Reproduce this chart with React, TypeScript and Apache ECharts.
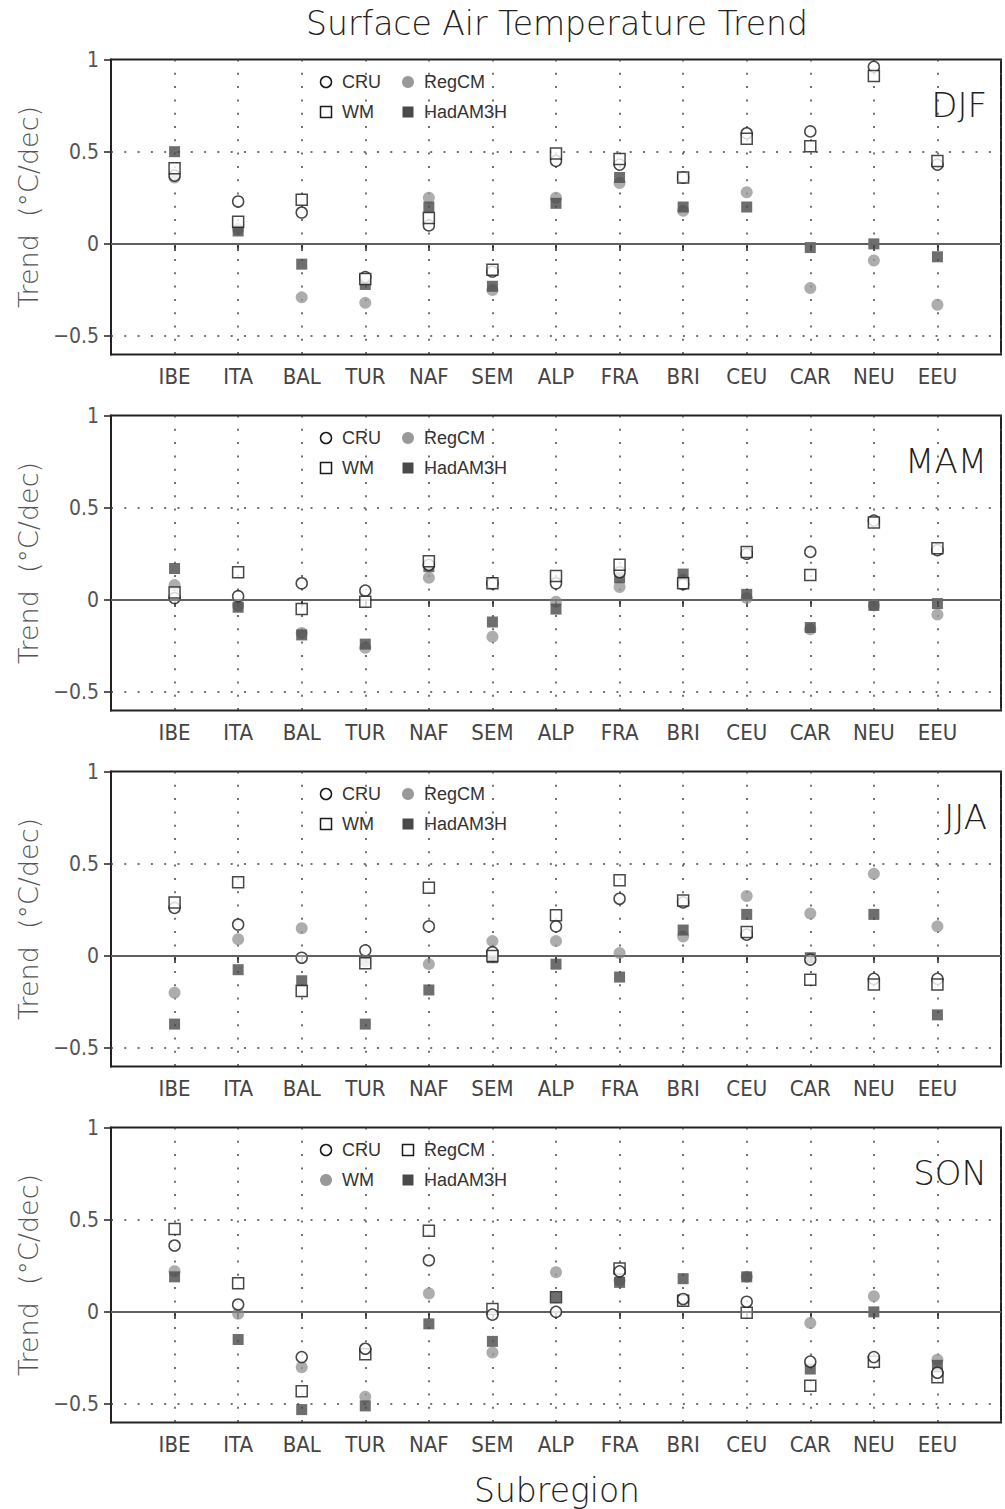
import React, { useEffect, useRef } from "react";
import * as echarts from "echarts";

const regions = ["IBE", "ITA", "BAL", "TUR", "NAF", "SEM", "ALP", "FRA", "BRI", "CEU", "CAR", "NEU", "EEU"];
const seasons = ["DJF", "MAM", "JJA", "SON"];
const yTicks = [-0.5, 0, 0.5, 1];

// DJF
const djfCRU = [0.37, 0.23, 0.17, -0.18, 0.1, -0.15, 0.45, 0.43, 0.36, 0.6, 0.61, 0.96, 0.43];
const djfWM = [0.41, 0.12, 0.24, -0.19, 0.14, -0.14, 0.49, 0.46, 0.36, 0.57, 0.53, 0.91, 0.45];
const djfRegCM = [0.36, 0.08, -0.29, -0.32, 0.25, -0.25, 0.25, 0.33, 0.18, 0.28, -0.24, -0.09, -0.33];
const djfHad = [0.5, 0.07, -0.11, -0.22, 0.2, -0.23, 0.22, 0.36, 0.2, 0.2, -0.02, 0.0, -0.07];
// MAM
const mamCRU = [0.01, 0.02, 0.09, 0.05, 0.19, 0.09, 0.09, 0.15, 0.085, 0.25, 0.26, 0.43, 0.27];
const mamWM = [0.04, 0.15, -0.05, -0.01, 0.21, 0.09, 0.13, 0.19, 0.09, 0.26, 0.135, 0.42, 0.28];
const mamRegCM = [0.08, -0.03, -0.18, -0.26, 0.12, -0.2, -0.01, 0.07, 0.11, 0.01, -0.16, -0.03, -0.08];
const mamHad = [0.17, -0.04, -0.19, -0.24, 0.18, -0.12, -0.05, 0.12, 0.14, 0.03, -0.15, -0.03, -0.02];
// JJA
const jjaCRU = [0.26, 0.17, -0.01, 0.03, 0.16, 0.02, 0.16, 0.31, 0.29, 0.115, -0.02, -0.125, -0.125];
const jjaWM = [0.29, 0.4, -0.19, -0.04, 0.37, 0.0, 0.22, 0.41, 0.3, 0.13, -0.13, -0.155, -0.155];
const jjaRegCM = [-0.2, 0.09, 0.15, -0.03, -0.045, 0.08, 0.08, 0.015, 0.105, 0.325, 0.23, 0.445, 0.16];
const jjaHad = [-0.37, -0.075, -0.135, -0.37, -0.185, -0.01, -0.045, -0.115, 0.14, 0.225, -0.01, 0.225, -0.32];
// SON
const sonCRU = [0.36, 0.04, -0.245, -0.2, 0.28, -0.015, 0.0, 0.22, 0.07, 0.055, -0.27, -0.245, -0.33];
const sonRegCM = [0.45, 0.155, -0.43, -0.23, 0.44, 0.015, 0.08, 0.235, 0.06, -0.005, -0.4, -0.27, -0.355];
const sonWM = [0.22, -0.01, -0.3, -0.46, 0.1, -0.22, 0.215, 0.17, 0.06, 0.19, -0.06, 0.085, -0.26];
const sonHad = [0.19, -0.15, -0.53, -0.51, -0.065, -0.16, 0.08, 0.16, 0.18, 0.19, -0.31, 0.0, -0.29];

const FONT = "'DejaVu Sans', 'Liberation Sans', sans-serif";
const NARROW = "'DejaVu Sans Condensed', 'Liberation Sans Narrow', 'DejaVu Sans', sans-serif";

const openCircle = { kind: "circle", size: 11, item: { color: "#ffffff", borderColor: "#1a1a1a", borderWidth: 1.5 } };
const openSquare = { kind: "rect", size: 11, item: { color: "#ffffff", borderColor: "#1a1a1a", borderWidth: 1.5 } };
const grayCircle = { kind: "circle", size: 12, item: { color: "#999999", borderWidth: 0 } };
const darkSquare = { kind: "rect", size: 11, item: { color: "#4a4a4a", borderWidth: 0 } };

type Entry = { name: string; values: number[]; mark: any; z: number };

const panels: Entry[][] = [
  [
    { name: "CRU", values: djfCRU, mark: openCircle, z: 4 },
    { name: "RegCM", values: djfRegCM, mark: grayCircle, z: 2 },
    { name: "WM", values: djfWM, mark: openSquare, z: 5 },
    { name: "HadAM3H", values: djfHad, mark: darkSquare, z: 3 },
  ],
  [
    { name: "CRU", values: mamCRU, mark: openCircle, z: 4 },
    { name: "RegCM", values: mamRegCM, mark: grayCircle, z: 2 },
    { name: "WM", values: mamWM, mark: openSquare, z: 5 },
    { name: "HadAM3H", values: mamHad, mark: darkSquare, z: 3 },
  ],
  [
    { name: "CRU", values: jjaCRU, mark: openCircle, z: 4 },
    { name: "RegCM", values: jjaRegCM, mark: grayCircle, z: 2 },
    { name: "WM", values: jjaWM, mark: openSquare, z: 5 },
    { name: "HadAM3H", values: jjaHad, mark: darkSquare, z: 3 },
  ],
  [
    { name: "CRU", values: sonCRU, mark: openCircle, z: 5 },
    { name: "RegCM", values: sonRegCM, mark: openSquare, z: 3 },
    { name: "WM", values: sonWM, mark: grayCircle, z: 2 },
    { name: "HadAM3H", values: sonHad, mark: darkSquare, z: 4 },
  ],
];

const PANEL_STEP = 356;
const GRID_TOP = 59.5;
const GRID_LEFT = 111;
const GRID_W = 890;
const GRID_H = 295;

export default function App() {
  const ref = useRef<HTMLDivElement>(null);
  useEffect(() => {
    if (!ref.current) return;
    const chart = echarts.init(ref.current, null, { renderer: "svg" });

    const grid: any[] = [];
    const xAxis: any[] = [];
    const yAxis: any[] = [];
    const series: any[] = [];
    const graphic: any[] = [];

    const dotted = { type: [2, 11.3], color: "#444", width: 1.5 };

    panels.forEach((entries, i) => {
      const top = GRID_TOP + PANEL_STEP * i;
      grid.push({
        left: GRID_LEFT,
        top,
        width: GRID_W,
        height: GRID_H,
        show: true,
        borderColor: "#222",
        borderWidth: 2,
      });
      xAxis.push({
        gridIndex: i,
        type: "value",
        min: 0,
        max: 14,
        interval: 1,
        axisLine: { show: true, lineStyle: { color: "#222", width: 2 } },
        axisTick: { show: true, inside: false, length: 7, lineStyle: { color: "#222", width: 1.5 } },
        axisLabel: {
          formatter: (v: number) => regions[v - 1] ?? "",
          fontSize: 22,
          color: "#444",
          margin: 11,
          fontFamily: NARROW,
        },
        splitLine: { show: true, lineStyle: dotted },
      });
      yAxis.push({
        gridIndex: i,
        type: "value",
        min: -0.6,
        max: 1,
        axisLine: { show: true, lineStyle: { color: "#222", width: 2 } },
        axisTick: { show: true, length: 7, customValues: yTicks, lineStyle: { color: "#222", width: 1.5 } },
        axisLabel: {
          customValues: yTicks,
          formatter: (v: number) => String(v).replace("-", "\u2212"),
          fontSize: 21,
          color: "#555",
          margin: 12,
          fontFamily: NARROW,
        },
        splitLine: { show: false },
        name: "Trend  (\u00B0C/dec)",
        nameLocation: "middle",
        nameGap: 67,
        nameTextStyle: { fontSize: 27, color: "#555", fontFamily: FONT, fontWeight: 300 },
      });
      series.push({
        type: "scatter",
        xAxisIndex: i,
        yAxisIndex: i,
        data: [],
        silent: true,
        z: 1,
        markLine: {
          silent: true,
          symbol: ["none", "none"],
          label: { show: false },
          data: [
            { yAxis: 0.5, lineStyle: dotted },
            { yAxis: -0.5, lineStyle: dotted },
            { yAxis: 0, lineStyle: { type: "solid", color: "#777", width: 1.5 } },
          ],
        },
      });
      entries.forEach((e) => {
        series.push({
          name: e.name,
          type: "scatter",
          xAxisIndex: i,
          yAxisIndex: i,
          z: e.z,
          symbol: e.mark.kind,
          symbolSize: e.mark.size,
          itemStyle: e.mark.item,
          data: e.values.map((v, k) => [k + 1, v]),
        });
      });

      // legend (2 x 2)
      const lx = [326, 408];
      const ly = [82 + PANEL_STEP * i, 112 + PANEL_STEP * i];
      entries.forEach((e, k) => {
        const col = k % 2;
        const row = Math.floor(k / 2);
        const cx = lx[col];
        const cy = ly[row];
        const st = {
          fill: e.mark.item.color,
          stroke: e.mark.item.borderWidth ? e.mark.item.borderColor : null,
          lineWidth: e.mark.item.borderWidth || 0,
        };
        if (e.mark.kind === "circle") {
          graphic.push({ type: "circle", shape: { cx, cy, r: e.mark.size / 2 }, style: st, z: 10 });
        } else {
          const s = e.mark.size;
          graphic.push({ type: "rect", shape: { x: cx - s / 2, y: cy - s / 2, width: s, height: s }, style: st, z: 10 });
        }
        graphic.push({
          type: "text",
          x: cx + 16,
          y: cy,
          z: 10,
          style: { text: e.name, fontSize: 18, fill: "#333", font: `18px ${NARROW}`, verticalAlign: "middle", align: "left" },
        });
      });

      graphic.push({
        type: "text",
        x: 987,
        y: 105 + PANEL_STEP * i,
        z: 10,
        style: { text: seasons[i], font: `300 34px ${FONT}`, fill: "#222", align: "right", verticalAlign: "middle" },
      });
    });

    graphic.push({
      type: "text",
      x: 557,
      y: 23,
      style: { text: "Surface Air Temperature Trend", font: `300 33px ${FONT}`, fill: "#222", align: "center", verticalAlign: "middle" },
    });
    graphic.push({
      type: "text",
      x: 557,
      y: 1490,
      style: { text: "Subregion", font: `300 33px ${FONT}`, fill: "#222", align: "center", verticalAlign: "middle" },
    });

    chart.setOption({
      animation: false,
      backgroundColor: "#ffffff",
      grid,
      xAxis,
      yAxis,
      series,
      graphic,
    });
    return () => chart.dispose();
  }, []);
  return <div ref={ref} style={{ position: "absolute", left: 0, top: 0, width: 1005, height: 1509 }} />;
}
